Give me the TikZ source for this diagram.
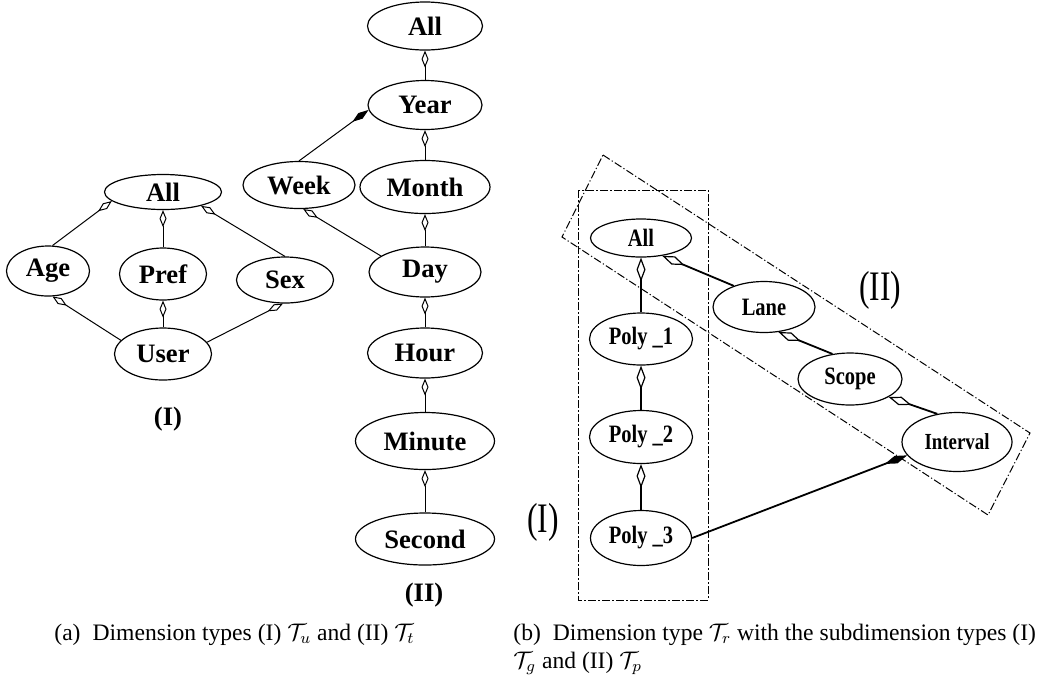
\documentclass[tikz,border=0pt]{standalone}
\usepackage{fontspec}
\setmainfont{Liberation Serif}
\newfontfamily\narrowfont[FakeStretch=0.82]{Liberation Serif}
\newfontfamily\tallfont[FakeStretch=0.75]{Liberation Serif}
\usetikzlibrary{shapes.geometric,arrows.meta}
\begin{document}
\begin{tikzpicture}[x=0.5pt,y=-0.5pt,
    wh/.style 2 args={minimum width=#1pt,minimum height=#2pt},
    lvl/.style={draw,ellipse,inner sep=0pt,line width=0.6pt,font=\fontsize{13.3}{13.3}\selectfont\bfseries},
    reg/.style={draw,ellipse,inner sep=0pt,line width=0.6pt,font=\narrowfont\fontsize{12.5}{12.5}\selectfont\bfseries},
    part/.style={line width=0.5pt,-{Diamond[open,length=8.5pt,width=3.5pt]}},
    whole/.style={line width=0.5pt,-{Diamond[length=10pt,width=3.5pt]}},
    partR/.style={line width=0.9pt,-{Diamond[open,length=12pt,width=4.5pt,line width=0.6pt]}},
    wholeR/.style={line width=0.9pt,-{Diamond[length=12pt,width=4pt]}},
    grpbox/.style={line width=0.5pt,dash pattern=on 4pt off 1.2pt on 0.6pt off 1.2pt},
    capt/.style={inner sep=0pt,font=\fontsize{11.8}{14}\selectfont}]
    \useasboundingbox (0,0) rectangle (1047,681);

    \node[lvl,wh={58.5}{17.5}] (allU) at (163,192) {All};
    \node[lvl,wh={41.5}{25}] (age) at (48,271) {Age};
    \node[lvl,wh={43.5}{26}] (pref) at (163,274) {Pref};
    \node[lvl,wh={48.5}{23}] (sex) at (285,280) {Sex};
    \node[lvl,wh={48.5}{26}] (user) at (163,354) {User};
    \node[font=\fontsize{13.3}{13.3}\selectfont\bfseries] (labU) at (168,419) {(I)};

    \draw[part] (age.80) -- (allU.190);
    \draw[part] (pref) -- (allU);
    \draw[part] (sex.north) -- (allU.340);
    \draw[part] (user.162) -- (age.280);
    \draw[part] (user) -- (pref);
    \draw[part] (user.15) -- (sex.265);

    \node[lvl,wh={57.5}{24}] (allT) at (425,26) {All};
    \node[lvl,wh={57}{24.5}] (year) at (425,105) {Year};
    \node[lvl,wh={56}{23.5}] (week) at (299,185) {Week};
    \node[lvl,wh={65}{26.5}] (month) at (425,187) {Month};
    \node[lvl,wh={56}{25}] (day) at (425,272) {Day};
    \node[lvl,wh={57.5}{25}] (hour) at (425,353) {Hour};
    \node[lvl,wh={69.5}{28.5}] (minute) at (425,441) {Minute};
    \node[lvl,wh={69.5}{26}] (second) at (425,539) {Second};
    \node[font=\fontsize{13.3}{13.3}\selectfont\bfseries] (labT) at (424,595) {(II)};

    \draw[part] (year) -- (allT);
    \draw[part] (month) -- (year);
    \draw[whole] (week.north) -- (year.185);
    \draw[part] (day) -- (month);
    \draw[part] (day.160) -- (week.280);
    \draw[part] (hour) -- (day);
    \draw[part] (minute) -- (hour);
    \draw[part] (second) -- (minute);

    \draw[grpbox] (578,190) rectangle (708,600);
    \draw[grpbox] (603,155) -- (1030,433) -- (988,515) -- (562,237) -- cycle;

    \node[reg,wh={50.5}{19}] (allR) at (641,238) {All};
    \node[reg,wh={51.5}{26}] (polyA) at (641,339) {Poly \_1};
    \node[reg,wh={51.5}{26.5}] (polyB) at (641,437) {Poly \_2};
    \node[reg,wh={50.5}{27.5}] (polyC) at (641,538) {Poly \_3};
    \node[reg,wh={51}{25.5}] (lane) at (764,307) {Lane};
    \node[reg,wh={52}{26}] (scope) at (850,379) {Scope};
    \node[reg,wh={55}{29.5},font=\narrowfont\fontsize{11.5}{11.5}\selectfont\bfseries] (interval) at (957,442) {Interval};
    \node[font=\tallfont\fontsize{21}{21}\selectfont] (labG) at (543,522) {(I)};
    \node[font=\tallfont\fontsize{21}{21}\selectfont] (labP) at (880,290) {(II)};

    \draw[partR] (polyA) -- (allR);
    \draw[partR] (polyB) -- (polyA);
    \draw[partR] (polyC) -- (polyB);
    \draw[partR] (lane.145) -- (allR.320);
    \draw[partR] (scope.125) -- (lane.300);
    \draw[partR] (interval.125) -- (scope.335);
    \draw[wholeR] (polyC.east) -- (interval.195);

    \node[capt,anchor=base west] (capA) at (54,640) {(a)\hspace{6pt}Dimension types (I) $\mathcal{T}_u$ and (II) $\mathcal{T}_t$};
    \node[capt,anchor=base west,align=left] (capB) at (513,668) {(b)\hspace{6pt}Dimension type $\mathcal{T}_r$ with the subdimension types (I)\\$\mathcal{T}_g$ and (II) $\mathcal{T}_p$};
\end{tikzpicture}
\end{document}
